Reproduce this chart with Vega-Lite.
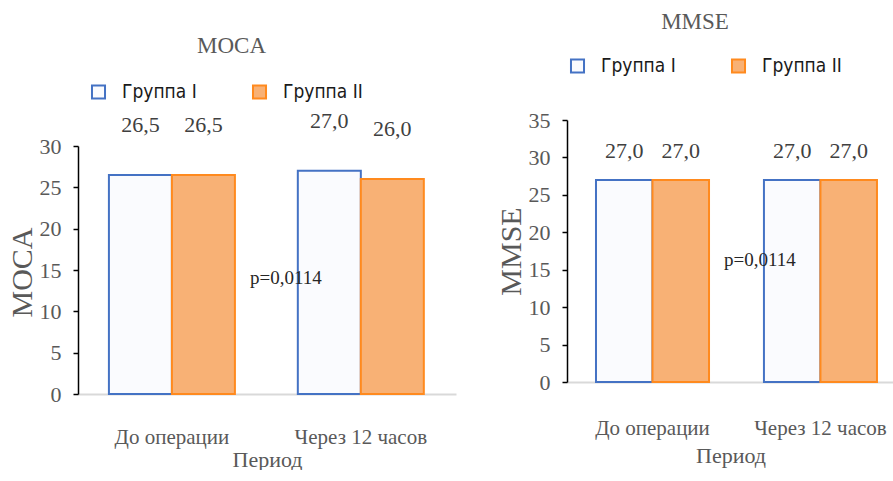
{
  "$schema": "https://vega.github.io/schema/vega-lite/v6.json",
  "background": "white",
  "padding": {"left": 7, "top": 11, "right": 0, "bottom": 0},
  "spacing": 40,
  "datasets": {
    "moca": [
      {"period": "До операции", "group": "Группа I", "value": 26.5},
      {"period": "До операции", "group": "Группа II", "value": 26.5},
      {"period": "Через 12 часов", "group": "Группа I", "value": 27.0},
      {"period": "Через 12 часов", "group": "Группа II", "value": 26.0}
    ],
    "mmse": [
      {"period": "До операции", "group": "Группа I", "value": 27.0},
      {"period": "До операции", "group": "Группа II", "value": 27.0},
      {"period": "Через 12 часов", "group": "Группа I", "value": 27.0},
      {"period": "Через 12 часов", "group": "Группа II", "value": 27.0}
    ],
    "pvalue": [{"p": "p=0,0114"}]
  },
  "resolve": {
    "scale": {"x": "independent", "xOffset": "independent", "y": "independent", "fill": "independent", "stroke": "independent"},
    "legend": {"fill": "independent", "stroke": "independent"}
  },
  "hconcat": [
    {
      "title": {"text": "MOCA", "frame": "bounds", "offset": 13},
      "width": 378,
      "height": 274,
      "layer": [
        {
          "data": {"name": "moca"},
          "mark": {"type": "bar", "strokeWidth": 2},
          "encoding": {
            "x": {"field": "period", "type": "nominal", "sort": null, "title": "Период",
              "scale": {"paddingInner": 0.333, "paddingOuter": 0.167, "align": 0.49},
              "axis": {"labelPadding": 32, "titlePadding": 2}},
            "xOffset": {"field": "group", "type": "nominal", "sort": null, "scale": {"paddingInner": 0, "paddingOuter": 0}},
            "y": {"field": "value", "type": "quantitative", "title": "MOCA",
              "scale": {"domain": [0, 30], "range": [274, 26], "nice": false},
              "axis": {"values": [0, 5, 10, 15, 20, 25, 30], "titleY": 152}},
            "fill": {"field": "group", "type": "nominal", "sort": null,
              "scale": {"domain": ["Группа I", "Группа II"], "range": ["#FAFBFE", "#F8B175"]},
              "legend": {"title": null, "padding": 11, "columnPadding": 51, "offset": 6}},
            "stroke": {"field": "group", "type": "nominal", "sort": null,
              "scale": {"domain": ["Группа I", "Группа II"], "range": ["#4472C4", "#FF8A1E"]},
              "legend": {"title": null, "padding": 11, "columnPadding": 51, "offset": 6}}
          }
        },
        {
          "data": {"name": "moca"},
          "mark": {"type": "text", "baseline": "bottom", "dy": -38, "fontSize": 22, "color": "#404040"},
          "encoding": {
            "x": {"field": "period", "type": "nominal", "sort": null},
            "xOffset": {"field": "group", "type": "nominal", "sort": null},
            "y": {"field": "value", "type": "quantitative", "axis": {"values": [0, 5, 10, 15, 20, 25, 30], "titleY": 152}},
            "text": {"field": "value", "type": "quantitative", "format": ".1f"}
          }
        },
        {
          "data": {"name": "pvalue"},
          "mark": {"type": "text", "baseline": "middle", "dx": -12, "fontSize": 19, "color": "#262626"},
          "encoding": {
            "x": {"datum": "Через 12 часов", "type": "nominal", "bandPosition": 0},
            "y": {"datum": 14, "type": "quantitative", "axis": {"values": [0, 5, 10, 15, 20, 25, 30], "titleY": 152}},
            "text": {"field": "p", "type": "nominal"}
          }
        }
      ]
    },
    {
      "title": {"text": "MMSE", "frame": "bounds", "offset": 21},
      "width": 327,
      "height": 262,
      "layer": [
        {
          "data": {"name": "mmse"},
          "mark": {"type": "bar", "strokeWidth": 2},
          "encoding": {
            "x": {"field": "period", "type": "nominal", "sort": null, "title": "Период",
              "scale": {"paddingInner": 0.327, "paddingOuter": 0.137, "align": 0.63},
              "axis": {"labelPadding": 35, "titlePadding": 7}},
            "xOffset": {"field": "group", "type": "nominal", "sort": null, "scale": {"paddingInner": 0, "paddingOuter": 0}},
            "y": {"field": "value", "type": "quantitative", "title": "MMSE",
              "scale": {"domain": [0, 35], "nice": false},
              "axis": {"values": [0, 5, 10, 15, 20, 25, 30, 35]}},
            "fill": {"field": "group", "type": "nominal", "sort": null,
              "scale": {"domain": ["Группа I", "Группа II"], "range": ["#FAFBFE", "#F8B175"]},
              "legend": {"title": null, "padding": 1, "columnPadding": 51, "offset": 42}},
            "stroke": {"field": "group", "type": "nominal", "sort": null,
              "scale": {"domain": ["Группа I", "Группа II"], "range": ["#4472C4", "#FF8A1E"]},
              "legend": {"title": null, "padding": 1, "columnPadding": 51, "offset": 42}}
          }
        },
        {
          "data": {"name": "mmse"},
          "mark": {"type": "text", "baseline": "bottom", "dy": -17, "fontSize": 22, "color": "#404040"},
          "encoding": {
            "x": {"field": "period", "type": "nominal", "sort": null},
            "xOffset": {"field": "group", "type": "nominal", "sort": null},
            "y": {"field": "value", "type": "quantitative", "axis": {"values": [0, 5, 10, 15, 20, 25, 30, 35]}},
            "text": {"field": "value", "type": "quantitative", "format": ".1f"}
          }
        },
        {
          "data": {"name": "pvalue"},
          "mark": {"type": "text", "baseline": "middle", "dx": -4, "fontSize": 19, "color": "#262626"},
          "encoding": {
            "x": {"datum": "Через 12 часов", "type": "nominal", "bandPosition": 0},
            "y": {"datum": 16.3, "type": "quantitative", "axis": {"values": [0, 5, 10, 15, 20, 25, 30, 35]}},
            "text": {"field": "p", "type": "nominal"}
          }
        }
      ]
    }
  ],
  "config": {
    "view": {"stroke": null},
    "locale": {"number": {"decimal": ",", "thousands": " ", "grouping": [3], "currency": ["", ""]}},
    "font": "Liberation Serif",
    "text": {"font": "Liberation Serif"},
    "title": {"font": "Liberation Serif", "fontSize": 23, "fontWeight": "normal", "color": "#595959"},
    "axis": {
      "grid": false,
      "labelFont": "Liberation Serif",
      "labelFontSize": 22,
      "labelColor": "#595959",
      "labelOverlap": false,
      "titleFont": "Liberation Serif",
      "titleFontSize": 30,
      "titleFontWeight": "normal",
      "titleColor": "#595959"
    },
    "axisY": {
      "domainColor": "#000000",
      "domainWidth": 1.5,
      "tickColor": "#000000",
      "tickWidth": 1.5,
      "tickSize": 5,
      "labelPadding": 12,
      "titlePadding": 2
    },
    "axisX": {
      "domainColor": "#d9d9d9",
      "domainWidth": 2,
      "ticks": false,
      "labelAngle": 0,
      "labelFontSize": 21,
      "titleFontSize": 22
    },
    "legend": {
      "orient": "top",
      "direction": "horizontal",
      "symbolType": "square",
      "symbolSize": 170,
      "symbolStrokeWidth": 2,
      "labelFont": "DejaVu Sans Condensed",
      "labelFontSize": 19,
      "labelColor": "#1a1a1a",
      "labelOffset": 14
    }
  }
}
